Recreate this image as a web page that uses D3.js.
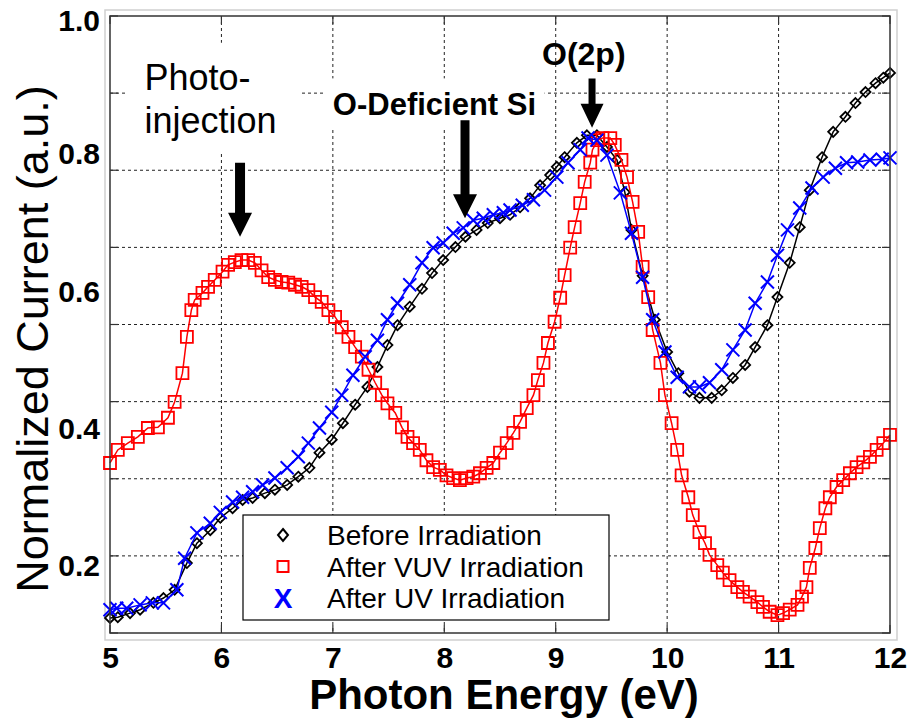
<!DOCTYPE html>
<html lang="en">
<head>
    <meta charset="UTF-8">
    <title>Normalized Current vs Photon Energy</title>
    <style>
        body { margin: 0; background: #fff; }
        svg text { font-family: Arial, "Liberation Sans", sans-serif; }
    </style>
</head>
<body>
<svg id="chart" width="910" height="718"></svg>
<script src="https://d3js.org/d3.v7.min.js"></script>

<script>
    /* global d3 */

    // Before irradiation (black diamonds)
    let energyBefore = [5.00, 5.07, 5.18, 5.27, 5.39, 5.48, 5.58, 5.69, 5.78, 5.90, 5.99, 6.10, 6.19, 6.28, 6.39,
        6.48, 6.59, 6.69, 6.79, 6.88, 6.99, 7.09, 7.20, 7.31, 7.40, 7.49, 7.58, 7.69, 7.80, 7.89, 7.99, 8.10,
        8.19, 8.29, 8.39, 8.50, 8.59, 8.68, 8.77, 8.86, 8.95, 9.01, 9.08, 9.19, 9.28, 9.37, 9.46, 9.55, 9.62,
        9.68, 9.78, 9.89, 10.00, 10.10, 10.20, 10.29, 10.40, 10.49, 10.59, 10.70, 10.79, 10.90, 10.99, 11.10,
        11.19, 11.28, 11.39, 11.49, 11.60, 11.69, 11.78, 11.87, 11.94, 12.00];
    let before = [0.122, 0.123, 0.129, 0.134, 0.144, 0.151, 0.163, 0.202, 0.231, 0.250, 0.268, 0.282, 0.294, 0.297,
        0.304, 0.309, 0.316, 0.328, 0.341, 0.363, 0.382, 0.406, 0.433, 0.459, 0.488, 0.520, 0.549, 0.576, 0.602,
        0.625, 0.644, 0.663, 0.678, 0.688, 0.698, 0.705, 0.710, 0.721, 0.734, 0.753, 0.768, 0.780, 0.794, 0.815,
        0.826, 0.826, 0.809, 0.790, 0.743, 0.688, 0.621, 0.557, 0.510, 0.479, 0.452, 0.443, 0.443, 0.454, 0.472,
        0.491, 0.517, 0.549, 0.590, 0.640, 0.692, 0.746, 0.794, 0.831, 0.853, 0.873, 0.889, 0.902, 0.910, 0.917];

    // After VUV irradiation (red squares)
    let energyVUV = [5.00, 5.07, 5.16, 5.25, 5.34, 5.43, 5.52, 5.58, 5.65, 5.69, 5.73, 5.76, 5.83, 5.88, 5.94,
        6.01, 6.06, 6.12, 6.18, 6.24, 6.30, 6.36, 6.42, 6.48, 6.54, 6.60, 6.66, 6.72, 6.78, 6.84, 6.90, 6.96,
        7.02, 7.08, 7.14, 7.20, 7.26, 7.32, 7.38, 7.44, 7.49, 7.56, 7.62, 7.67, 7.72, 7.78, 7.84, 7.90, 7.96,
        8.02, 8.08, 8.14, 8.20, 8.26, 8.32, 8.38, 8.44, 8.50, 8.56, 8.62, 8.68, 8.74, 8.80, 8.84, 8.89, 8.93,
        8.99, 9.04, 9.08, 9.13, 9.17, 9.22, 9.26, 9.31, 9.33, 9.38, 9.42, 9.49, 9.53, 9.59, 9.64, 9.69, 9.74,
        9.78, 9.83, 9.87, 9.94, 9.98, 10.04, 10.09, 10.13, 10.19, 10.23, 10.29, 10.34, 10.38, 10.45, 10.50,
        10.56, 10.63, 10.68, 10.74, 10.81, 10.86, 10.92, 10.99, 11.04, 11.10, 11.17, 11.21, 11.25, 11.28, 11.33,
        11.37, 11.42, 11.46, 11.52, 11.58, 11.64, 11.70, 11.76, 11.82, 11.88, 11.94, 12.00];
    let vuv = [0.348, 0.367, 0.377, 0.386, 0.399, 0.400, 0.414, 0.437, 0.479, 0.532, 0.571, 0.586, 0.596, 0.605,
        0.615, 0.627, 0.637, 0.641, 0.644, 0.644, 0.640, 0.629, 0.619, 0.615, 0.612, 0.611, 0.608, 0.605, 0.600,
        0.590, 0.583, 0.571, 0.561, 0.546, 0.532, 0.517, 0.503, 0.484, 0.465, 0.447, 0.435, 0.421, 0.400, 0.386,
        0.377, 0.367, 0.352, 0.342, 0.338, 0.330, 0.326, 0.323, 0.326, 0.328, 0.333, 0.341, 0.348, 0.363, 0.377,
        0.392, 0.408, 0.428, 0.447, 0.469, 0.494, 0.523, 0.554, 0.589, 0.622, 0.662, 0.692, 0.727, 0.758, 0.786,
        0.805, 0.819, 0.822, 0.822, 0.812, 0.790, 0.765, 0.729, 0.685, 0.634, 0.590, 0.542, 0.494, 0.447, 0.406,
        0.367, 0.330, 0.298, 0.272, 0.247, 0.231, 0.214, 0.199, 0.188, 0.177, 0.167, 0.160, 0.153, 0.145, 0.138,
        0.131, 0.126, 0.129, 0.134, 0.141, 0.153, 0.167, 0.195, 0.224, 0.253, 0.282, 0.298, 0.313, 0.323, 0.333,
        0.342, 0.349, 0.357, 0.367, 0.377, 0.389];

    // After UV irradiation (blue crosses)
    let energyUV = [5.00, 5.06, 5.15, 5.27, 5.38, 5.48, 5.60, 5.67, 5.78, 5.90, 5.99, 6.10, 6.19, 6.28, 6.37,
        6.48, 6.59, 6.69, 6.78, 6.88, 6.99, 7.08, 7.18, 7.29, 7.40, 7.49, 7.58, 7.69, 7.80, 7.90, 7.99, 8.08,
        8.17, 8.26, 8.35, 8.44, 8.53, 8.59, 8.70, 8.80, 8.90, 9.01, 9.11, 9.22, 9.29, 9.37, 9.46, 9.58, 9.68,
        9.78, 9.87, 9.98, 10.09, 10.20, 10.29, 10.38, 10.49, 10.59, 10.70, 10.79, 10.90, 10.99, 11.08, 11.19,
        11.30, 11.40, 11.51, 11.61, 11.71, 11.82, 11.93, 12.00];
    let uv = [0.134, 0.136, 0.136, 0.141, 0.144, 0.144, 0.163, 0.209, 0.246, 0.260, 0.276, 0.291, 0.298, 0.306,
        0.316, 0.326, 0.341, 0.357, 0.377, 0.399, 0.422, 0.447, 0.476, 0.503, 0.527, 0.557, 0.581, 0.608, 0.640,
        0.662, 0.669, 0.683, 0.691, 0.702, 0.705, 0.710, 0.713, 0.717, 0.724, 0.732, 0.746, 0.765, 0.786, 0.805,
        0.822, 0.819, 0.797, 0.742, 0.683, 0.619, 0.557, 0.510, 0.473, 0.459, 0.459, 0.465, 0.484, 0.513, 0.542,
        0.581, 0.612, 0.651, 0.688, 0.720, 0.749, 0.765, 0.778, 0.786, 0.787, 0.790, 0.791, 0.793];

    let xTicks = [5, 6, 7, 8, 9, 10, 11, 12];
    let yTickLabels = [0.2, 0.4, 0.6, 0.8, 1.0];
    let gridSteps = [0, 1, 2, 3, 4, 5, 6, 7, 8];
    let seriesNames = ["Before Irradiation", "After VUV Irradiation", "After UV Irradiation"];

    let svg = d3.select("#chart"),
        pLeft = 110, pRight = 890, pTop = 16, pBottom = 633,
        x = d3.scaleLinear().domain([5, 12]).range([pLeft, pRight]),
        y = d3.scaleLinear().domain([0.1, 1.0]).range([pBottom, pTop]),
        yGrid = d3.scaleLinear().domain([0, 8]).range([pBottom, pTop]);

    // outer grey frame
    svg.append("rect")
        .attr("x", 105).attr("y", 10).attr("width", 792).attr("height", 630)
        .attr("fill", "#fff").attr("stroke", "#cfcfcf").attr("stroke-width", 1.5);
    svg.append("rect")
        .attr("x", pLeft).attr("y", pTop).attr("width", pRight - pLeft).attr("height", pBottom - pTop)
        .attr("fill", "#fff");

    // dotted grid
    let grid = svg.append("g").attr("stroke", "#222").attr("stroke-width", 1).attr("stroke-dasharray", "3,3");
    grid.selectAll(".gx").data(xTicks.slice(1, -1)).enter().append("line")
        .attr("x1", d => x(d)).attr("x2", d => x(d)).attr("y1", pTop).attr("y2", pBottom);
    grid.selectAll(".gy").data(gridSteps.slice(1, -1)).enter().append("line")
        .attr("x1", pLeft).attr("x2", pRight).attr("y1", d => yGrid(d)).attr("y2", d => yGrid(d));

    // white boxes behind annotation text
    let annotations = [
        {lines: ["Photo-", "injection"], tx: 5.31, ty: [0.892, 0.829], bold: false, size: 36,
            box: [5.135, 6.705, 0.961, 0.800], ax: 6.167, a0: 0.786, a1: 0.678, shaft: 5, head: 12},
        {lines: ["O-Deficient Si"], tx: 7.0, ty: [0.856], bold: true, size: 31,
            box: [6.93, 8.90, 0.909, 0.834], ax: 8.186, a0: 0.848, a1: 0.705, shaft: 4.5, head: 12},
        {lines: ["O(2p)"], tx: 8.877, ty: [0.928], bold: true, size: 32,
            box: null, ax: 9.326, a0: 0.909, a1: 0.837, shaft: 3.5, head: 11.5}
    ];
    annotations.filter(a => a.box).forEach(function (a) {
        svg.append("rect")
            .attr("x", x(a.box[0])).attr("y", y(a.box[2]))
            .attr("width", x(a.box[1]) - x(a.box[0])).attr("height", y(a.box[3]) - y(a.box[2]))
            .attr("fill", "#fff");
    });

    // inward ticks on all four sides
    let ticks = svg.append("g").attr("stroke", "#333").attr("stroke-width", 1.2);
    xTicks.forEach(function (d) {
        ticks.append("line").attr("x1", x(d)).attr("x2", x(d)).attr("y1", pBottom).attr("y2", pBottom - 8);
        ticks.append("line").attr("x1", x(d)).attr("x2", x(d)).attr("y1", pTop).attr("y2", pTop + 8);
    });
    gridSteps.forEach(function (d) {
        ticks.append("line").attr("x1", pLeft).attr("x2", pLeft + 8).attr("y1", yGrid(d)).attr("y2", yGrid(d));
        ticks.append("line").attr("x1", pRight).attr("x2", pRight - 8).attr("y1", yGrid(d)).attr("y2", yGrid(d));
    });

    // series
    let lineGen = d3.line().x(d => x(d[0])).y(d => y(d[1]));
    let series = [
        {name: seriesNames[0], e: energyBefore, v: before, color: "#000", marker: "diamond"},
        {name: seriesNames[1], e: energyVUV, v: vuv, color: "#ff0000", marker: "square"},
        {name: seriesNames[2], e: energyUV, v: uv, color: "#0000ff", marker: "cross"}
    ];

    function markerPath(type) {
        if (type === "diamond") return "M0,-5L5,0L0,5L-5,0Z";
        if (type === "square") return "M-6,-6H6V6H-6Z";
        return "M-6.5,-6.5L6.5,6.5M6.5,-6.5L-6.5,6.5";
    }

    series.forEach(function (s) {
        let pts = s.e.map((e, i) => [e, s.v[i]]);
        let g = svg.append("g");
        g.append("path")
            .attr("d", lineGen(pts))
            .attr("fill", "none").attr("stroke", s.color).attr("stroke-width", 1.5);
        g.selectAll("path.m").data(pts).enter().append("path")
            .attr("class", "m")
            .attr("transform", d => "translate(" + x(d[0]) + "," + y(d[1]) + ")")
            .attr("d", markerPath(s.marker))
            .attr("fill", "none").attr("stroke", s.color)
            .attr("stroke-width", s.marker === "cross" ? 2 : 1.8);
    });

    // axes box
    svg.append("rect")
        .attr("x", pLeft).attr("y", pTop).attr("width", pRight - pLeft).attr("height", pBottom - pTop)
        .attr("fill", "none").attr("stroke", "#333").attr("stroke-width", 1.5);

    // tick labels
    let xAxis = svg.append("g")
        .attr("transform", "translate(0," + pBottom + ")")
        .call(d3.axisBottom(x).tickValues(xTicks).tickSize(0).tickPadding(14).tickFormat(d3.format("d")));
    xAxis.select(".domain").remove();
    xAxis.selectAll("text").attr("font-size", 30).attr("font-weight", "bold").attr("fill", "#000")
        .attr("font-family", "Arial, 'Liberation Sans', sans-serif");

    let yAxis = svg.append("g")
        .attr("transform", "translate(" + pLeft + ",0)")
        .call(d3.axisLeft(y).tickValues(yTickLabels).tickSize(0).tickPadding(10).tickFormat(d3.format(".1f")));
    yAxis.select(".domain").remove();
    yAxis.selectAll("text").attr("font-size", 30).attr("font-weight", "bold").attr("fill", "#000")
        .attr("font-family", "Arial, 'Liberation Sans', sans-serif")
        .attr("dy", d => d === 1.0 ? "0.48em" : "0.36em");

    // axis titles
    svg.append("text")
        .attr("x", 504).attr("y", 709)
        .attr("text-anchor", "middle")
        .attr("font-size", 42).attr("font-weight", "bold")
        .text("Photon Energy (eV)");
    svg.append("text")
        .attr("transform", "translate(48,339) rotate(-90)")
        .attr("text-anchor", "middle")
        .attr("font-size", 45)
        .text("Normalized Current (a.u.)");

    // annotations + arrows
    annotations.forEach(function (a) {
        a.lines.forEach(function (t, i) {
            svg.append("text")
                .attr("x", x(a.tx)).attr("y", y(a.ty[i]))
                .attr("font-size", a.size)
                .attr("font-weight", a.bold ? "bold" : "normal")
                .text(t);
        });
        let cx = x(a.ax), y0 = y(a.a0), y1 = y(a.a1), hl = 24;
        svg.append("path")
            .attr("d", "M" + (cx - a.shaft) + "," + y0 + "H" + (cx + a.shaft) + "V" + (y1 - hl) +
                "H" + (cx + a.head) + "L" + cx + "," + y1 + "L" + (cx - a.head) + "," + (y1 - hl) +
                "H" + (cx - a.shaft) + "Z")
            .attr("fill", "#000");
    });

    // legend
    let legend = svg.append("g");
    legend.append("rect")
        .attr("x", 243).attr("y", 515).attr("width", 366).attr("height", 105)
        .attr("fill", "#fff").attr("stroke", "#000").attr("stroke-width", 1.2);
    series.forEach(function (s, i) {
        let cy = 535 + i * 31.5;
        if (s.marker === "cross") {
            legend.append("text")
                .attr("x", 283).attr("y", cy + 10)
                .attr("text-anchor", "middle")
                .attr("font-size", 28).attr("font-weight", "bold").attr("fill", s.color)
                .text("X");
        } else {
            legend.append("path")
                .attr("transform", "translate(283," + cy + ")")
                .attr("d", s.marker === "diamond" ? "M0,-6L5,0L0,6L-5,0Z" : "M-5.5,-5.5H5.5V5.5H-5.5Z")
                .attr("fill", "none").attr("stroke", s.color).attr("stroke-width", 2);
        }
        legend.append("text")
            .attr("x", 327).attr("y", cy + 10)
            .attr("font-size", 28)
            .text(s.name);
    });
</script>
</body>
</html>
